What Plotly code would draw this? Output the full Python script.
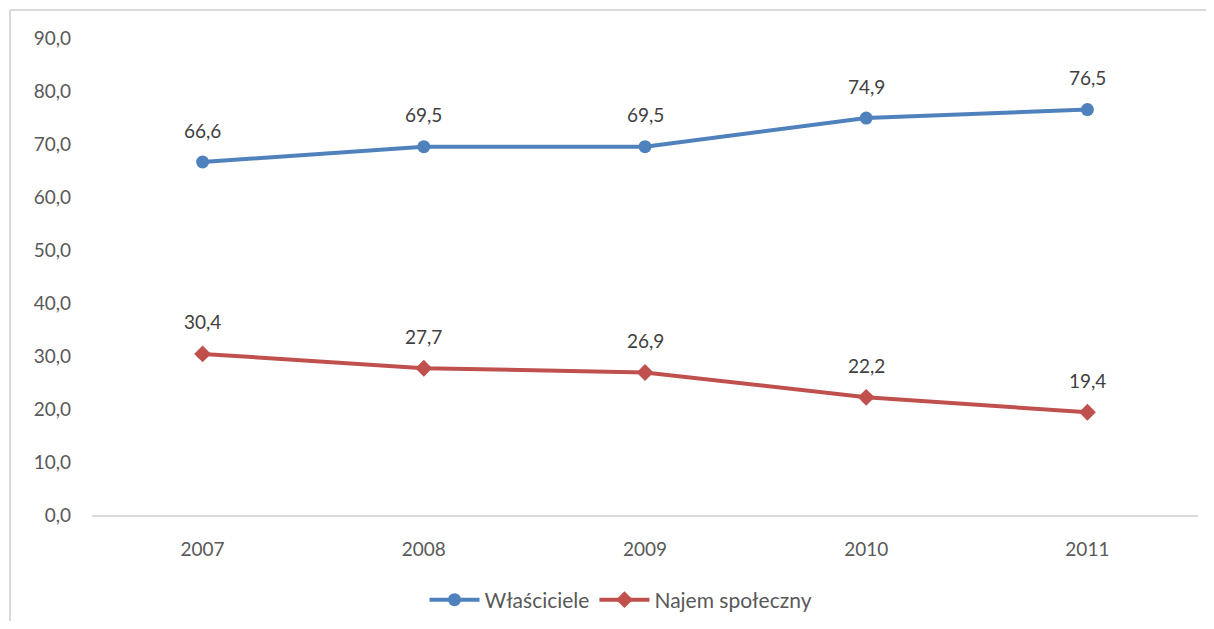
import plotly.graph_objects as go

years = ["2007", "2008", "2009", "2010", "2011"]
wlasciciele = [66.6, 69.5, 69.5, 74.9, 76.5]
najem = [30.4, 27.7, 26.9, 22.2, 19.4]

BLUE = "#4F81BD"
RED = "#C0504D"
FONT = "Lato, 'Open Sans', sans-serif"

fig = go.Figure()
fig.add_trace(go.Scatter(x=years, y=wlasciciele, name="Właściciele", mode="lines+markers",
                         line=dict(color=BLUE, width=4), marker=dict(symbol="circle", size=13, color=BLUE)))
fig.add_trace(go.Scatter(x=years, y=najem, name="Najem społeczny", mode="lines+markers",
                         line=dict(color=RED, width=4), marker=dict(symbol="diamond", size=13, color=RED)))

# data labels above the points (category axis -> use category index)
for series in (wlasciciele, najem):
    for i, v in enumerate(series):
        fig.add_annotation(x=i, y=v, text=f"{v:.1f}".replace(".", ","), showarrow=False,
                           yshift=32, font=dict(size=19, color="#404040", family=FONT))

# page body has an 8px margin, so the figure is drawn 8px in from the window edge
W, H = 1198, 613
L, R, T, B = 84, 8, 30, 106
pw, ph = W - L - R, H - T - B
bx = (2 - L) / pw
by = 1 + (T - 2) / ph
fig.add_shape(type="line", xref="paper", yref="paper", x0=bx, x1=1.2, y0=by, y1=by,
              line=dict(color="#D9D9D9", width=2))
fig.add_shape(type="line", xref="paper", yref="paper", x0=bx, x1=bx, y0=by, y1=-0.4,
              line=dict(color="#D9D9D9", width=2))

fig.update_layout(
    width=W, height=H,
    margin=dict(l=L, r=R, t=T, b=B, autoexpand=False),
    paper_bgcolor="white", plot_bgcolor="white",
    separators=", ",
    font=dict(family=FONT, size=19, color="#595959"),
    showlegend=True,
    legend=dict(orientation="h", x=(621 - 8) / W, xanchor="center", xref="container",
                y=1 - 592 / H, yanchor="middle", yref="container",
                font=dict(size=21, color="#595959"), itemwidth=50),
)
fig.update_xaxes(type="category", range=[-0.5, 4.5], showgrid=False, showline=True,
                 linecolor="#D9D9D9", linewidth=2, ticks="", ticklabelstandoff=16)
fig.update_yaxes(range=[0, 90], dtick=10, tickformat=".1f", showgrid=False, zeroline=False,
                 showline=False, ticklabelstandoff=20)

fig.write_html("out.html")
